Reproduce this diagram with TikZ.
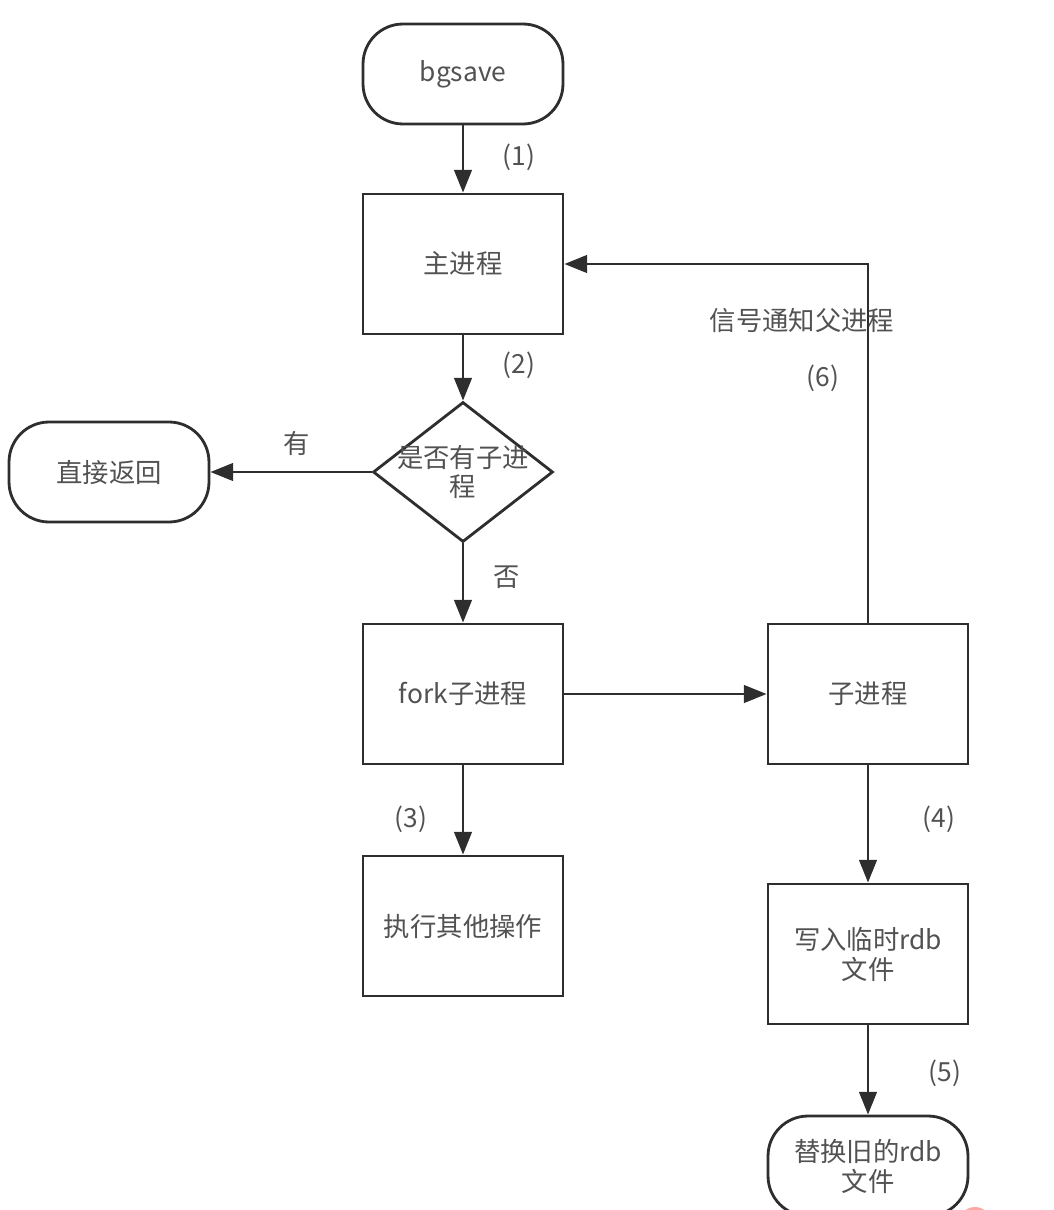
\documentclass[tikz,border=0pt]{standalone}
\usepackage{fontspec}
\setmainfont{Noto Sans CJK SC}
\usetikzlibrary{shapes.geometric,arrows.meta}
\begin{document}
\begin{tikzpicture}[x=0.02cm,y=-0.02cm,line width=1.6pt,>={Triangle[length=13pt,width=10pt]},
 every node/.style={text=black!68,font=\fontsize{15}{17}\selectfont,align=center},
 proc/.style={draw=black!82,rectangle,minimum width=4cm,minimum height=2.8cm},
 term/.style={draw=black!82,rectangle,rounded corners=0.8cm,minimum width=4cm,minimum height=2cm},
 cond/.style={draw=black!82,diamond,aspect=1.3,inner sep=0pt,minimum width=3.6cm,minimum height=2.8cm}]
 \clip (0,0) rectangle (1054,1210);
 \node[term] (n0) at (463,74) {bgsave};
 \node[proc] (n1) at (463,264) {主进程};
 \node[cond] (n2) at (463,472) {\makebox[0pt]{是否有子进}\\\makebox[0pt]{程}};
 \node[term] (n3) at (109,472) {直接返回};
 \node[proc] (n4) at (463,694) {fork子进程};
 \node[proc] (n5) at (463,926) {执行其他操作};
 \node[proc] (n6) at (868,694) {子进程};
 \node[proc] (n7) at (868,954) {写入临时rdb\\文件};
 \node[term] (n8) at (868,1166) {替换旧的rdb\\文件};

 \node (l1) at (519,157) {(1)};
 \node (l2) at (519,365) {(2)};
 \node (l3) at (411,819) {(3)};
 \node (l4) at (939,819) {(4)};
 \node (l5) at (945,1073) {(5)};
 \node (l6) at (823,378) {(6)};
 \node (ly) at (297,443) {有};
 \node (ln) at (507,577) {否};
 \node (ls) at (802,321) {信号通知父进程};

 \foreach \from/\to in
{n0/n1,n1/n2,n2/n3,n2/n4,n4/n5,n4/n6,n6/n7,n7/n8}
\draw [->,black!82] (\from) -- (\to);
 \draw [->,black!82] (n6.north) |- (n1.east);

 \fill[red!35] (975,1223) circle (16);
\end{tikzpicture}
\end{document}
